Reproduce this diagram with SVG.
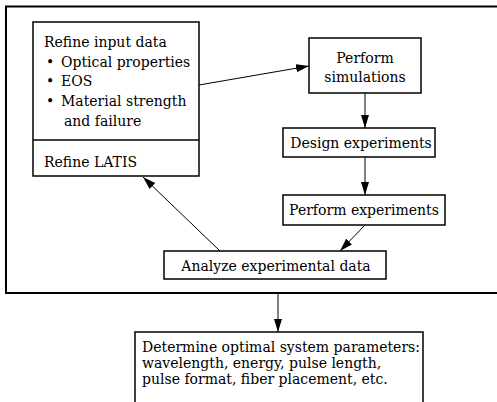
<svg xmlns="http://www.w3.org/2000/svg" width="497" height="402" viewBox="0 0 497 402">
<style>
.box{fill:#fff;stroke:#000;stroke-width:1.5}
.t{font-family:"DejaVu Serif","Liberation Serif",serif;font-size:14px;fill:#000}
.c{fill:none;stroke:#000;stroke-width:1}
</style>
<defs>
<marker id="ah" markerUnits="userSpaceOnUse" markerWidth="14" markerHeight="10" refX="13" refY="4" orient="auto">
<path d="M0,0 L13,4 L0,8 Z" fill="#000"/>
</marker>
</defs>
<rect x="6" y="6.5" width="500" height="286.5" fill="none" stroke="#000" stroke-width="2"/>
<g id="refine">
<rect class="box" x="33" y="22" width="166" height="154"/>
<line x1="33" y1="140" x2="199" y2="140" stroke="#000" stroke-width="1.5"/>
<text class="t" x="44" y="47">Refine input data</text>
<text class="t" x="46" y="67">•</text><text class="t" x="61" y="67">Optical properties</text>
<text class="t" x="46" y="86">•</text><text class="t" x="61" y="86">EOS</text>
<text class="t" x="46" y="106">•</text><text class="t" x="61" y="106">Material strength</text>
<text class="t" x="64" y="126">and failure</text>
<text class="t" x="44" y="167">Refine LATIS</text>
</g>
<g id="simulations">
<rect class="box" x="309" y="38" width="112" height="55"/>
<text class="t" x="365" y="63" text-anchor="middle">Perform</text>
<text class="t" x="365" y="82" text-anchor="middle">simulations</text>
</g>
<g id="design">
<rect class="box" x="283" y="128" width="152" height="29"/>
<text class="t" x="361" y="148" text-anchor="middle">Design experiments</text>
</g>
<g id="perform">
<rect class="box" x="283" y="195" width="162" height="30"/>
<text class="t" x="364" y="215" text-anchor="middle">Perform experiments</text>
</g>
<g id="analyze">
<rect class="box" x="164" y="251" width="222" height="28"/>
<text class="t" x="276" y="271" text-anchor="middle">Analyze experimental data</text>
</g>
<g id="determine">
<rect class="box" x="135" y="332" width="288" height="80"/>
<text class="t"><tspan x="142" y="352">Determine optimal system parameters:</tspan><tspan x="142" y="368">wavelength, energy, pulse length,</tspan><tspan x="142" y="384">pulse format, fiber placement, etc.</tspan></text>
</g>
<g id="connectors">
<line class="c" x1="199" y1="85" x2="309" y2="66" marker-end="url(#ah)"/>
<line class="c" x1="365" y1="93" x2="365" y2="128" marker-end="url(#ah)"/>
<line class="c" x1="365" y1="157" x2="365" y2="195" marker-end="url(#ah)"/>
<line class="c" x1="365" y1="225" x2="340" y2="251" marker-end="url(#ah)"/>
<line class="c" x1="220" y1="251" x2="143" y2="177" marker-end="url(#ah)"/>
<line class="c" x1="278" y1="293" x2="278" y2="332" marker-end="url(#ah)"/>
</g>
</svg>
